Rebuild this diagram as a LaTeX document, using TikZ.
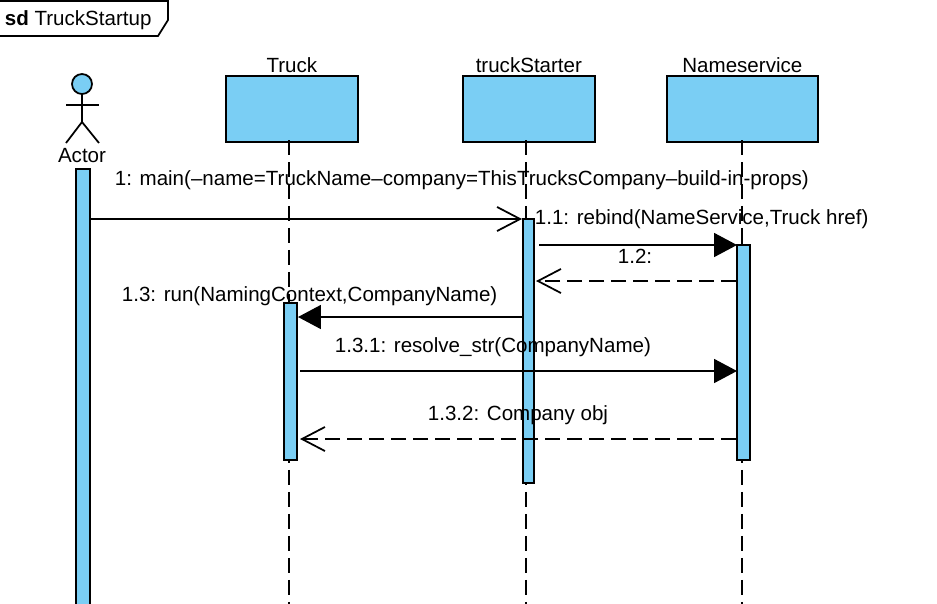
\documentclass[tikz,border=0pt]{standalone}
\usepackage{fontspec}
\setmainfont{Liberation Sans}
\usetikzlibrary{positioning, arrows.meta}

\begin{document}
\begin{tikzpicture}[
    x=0.02cm, y=-0.02cm,
    font=\fontsize{11.7pt}{14pt}\selectfont,
    line width=1pt,
    lifebox/.style={draw, fill=skyblue, minimum height=1.32cm, anchor=north west, inner sep=0pt},
    boxname/.style={label={[yshift=-0.1cm]north:#1}},
    lifeline/.style={dash pattern=on 0.3cm off 0.14cm},
    activation/.style={draw, fill=skyblue, anchor=north west, inner sep=0pt},
    syncmsg/.style={-{Triangle[length=0.46cm, width=0.48cm]}},
    asyncmsg/.style={-{Straight Barb[length=0.46cm, width=0.48cm]}},
    replymsg/.style={asyncmsg, lifeline},
    msglabel/.style={inner sep=0pt}
]
\definecolor{skyblue}{HTML}{7ACEF4}

\useasboundingbox (0,0) rectangle (937,603);
\clip (0,0) rectangle (937,603);

% Frame
\draw[fill=white] (-5,1) -- (168,1) -- (168,20) -- (158,36) -- (-5,36) -- cycle;
\node[anchor=west, inner sep=0pt] (frameTitle) at (4,20) {\textbf{sd} TruckStartup};

% Actor
\draw[fill=skyblue] (82,84) circle (10);
\draw (82,94) -- (82,122);
\draw (66,105) -- (99,105);
\draw (66,143) -- (82,122) -- (99,143);
\node[inner sep=0pt] (actorName) at (82,156) {Actor};

% Lifeline heads
\node[lifebox, minimum width=2.64cm, label={[yshift=-0.09cm]north:Truck}] (truck) at (225,75) {};
\node[lifebox, minimum width=2.64cm, label={[yshift=-0.09cm]north:truckStarter}] (starter) at (462,75) {};
\node[lifebox, minimum width=3.02cm, label={[yshift=-0.09cm]north:Nameservice}] (nameservice) at (666,75) {};

% Lifelines
\coordinate (truckTop) at (289,140);
\coordinate (truckEnd) at (289,610);
\coordinate (starterTop) at (526,140);
\coordinate (starterEnd) at (526,610);
\coordinate (nameTop) at (742,140);
\coordinate (nameEnd) at (742,610);
\draw[lifeline] (truckTop) -- (truckEnd);
\draw[lifeline] (starterTop) -- (starterEnd);
\draw[lifeline] (nameTop) -- (nameEnd);
\draw (526,208) -- (526,218);
\draw (742,235) -- (742,244);

% Activation bars
\node[activation, minimum width=0.28cm, minimum height=8.9cm] (actorBar) at (75,168) {};
\node[activation, minimum width=0.26cm, minimum height=3.14cm] (truckBar) at (283,302) {};
\node[activation, minimum width=0.22cm, minimum height=5.28cm] (starterBar) at (522,218) {};
\node[activation, minimum width=0.26cm, minimum height=4.3cm] (nameBar) at (736,244) {};

% Message ends
\coordinate (mainFrom) at (91,219);
\coordinate (rebindFrom) at (539,245);
\coordinate (rebindTo) at (737,245);
\coordinate (replyFrom) at (736,281);
\coordinate (replyTo) at (536,281);
\coordinate (runFrom) at (522,317);
\coordinate (runTo) at (298,317);
\coordinate (resolveFrom) at (300,371);
\coordinate (resolveTo) at (737,371);
\coordinate (objFrom) at (736,439);
\coordinate (objTo) at (300,439);

% Messages
\draw[asyncmsg] (mainFrom) -- (starterBar.north west |- mainFrom);
\draw[syncmsg] (rebindFrom) -- (rebindTo);
\draw[replymsg] (replyFrom) -- (replyTo);
\draw[syncmsg] (runFrom) -- (runTo);
\draw[syncmsg] (resolveFrom) -- (resolveTo);
\draw[replymsg] (objFrom) -- (objTo);

% Message labels
\node[msglabel, anchor=west] (mainLabel) at (114,180) {1: main(--name=TruckName--company=ThisTrucksCompany--build-in-props)};
\node[msglabel, anchor=west] (rebindLabel) at (534,219) {1.1: rebind(NameService,Truck href)};
\node[msglabel] (replyLabel) at (635,256) {1.2:};
\node[msglabel, anchor=west] (runLabel) at (121,296) {1.3: run(NamingContext,CompanyName)};
\node[msglabel, anchor=west] (resolveLabel) at (334,347) {1.3.1: resolve\_str(CompanyName)};
\node[msglabel, anchor=west] (objLabel) at (427,415) {1.3.2: Company obj};

\end{tikzpicture}
\end{document}
